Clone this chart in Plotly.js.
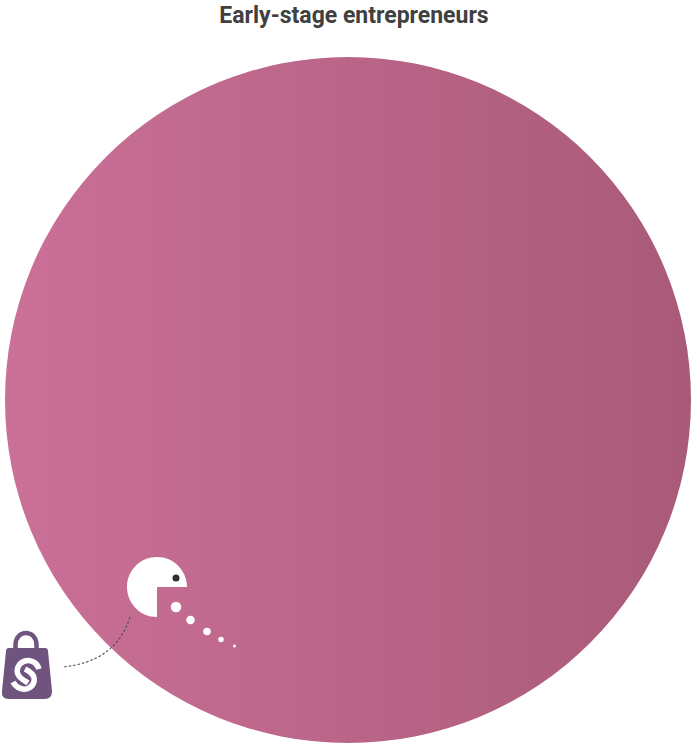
<!DOCTYPE html>
<html>
<head>
<meta charset="utf-8">
<script src="https://cdn.plot.ly/plotly-3.0.1.min.js"></script>
<style>html,body{margin:0;padding:0;background:#fff}#c{width:695px;height:743px}</style>
</head>
<body>
<div id="c"></div>
<script>
const titleText = 'Early-stage entrepreneurs';
const bubbleX = [348], bubbleY = [400], bubbleD = [686];
const dotsX = [176, 190.5, 207, 221, 234.5];
const dotsY = [607, 620, 631.5, 639.5, 646];
const dotsD = [10.5, 8.5, 7.5, 5.5, 3];
const eyeX = 176, eyeY = 578, eyeR = 3.5;

const bubble = {
  type:'scatter', mode:'markers', x:bubbleX, y:bubbleY, hoverinfo:'skip', cliponaxis:false,
  marker:{size:bubbleD, sizemode:'diameter', color:'#cb7097', opacity:1, line:{width:0},
    gradient:{type:'horizontal', color:'#a95a79'}}
};
const dots = {type:'scatter', mode:'markers', x:dotsX, y:dotsY, hoverinfo:'skip', cliponaxis:false,
  marker:{size:dotsD, color:'#ffffff', opacity:1, line:{width:0}}};

const purple = '#6f5480';
const base = {xref:'x', yref:'y', type:'path', layer:'above'};
const shapes = [
  // connector
  {...base, path:'M130,617 Q116,662 62,667', line:{color:'#4a4a4a', width:1.1, dash:'2.5px,2px'}},
  // pacman
  {...base, path:'M157,587 L187,587 C187,570.4 173.6,557 157,557 C140.4,557 127,570.4 127,587 C127,603.6 140.4,617 157,617 Z',
    fillcolor:'#ffffff', line:{width:0}},
  // pacman eye
  {xref:'x', yref:'y', type:'circle', layer:'above', x0:eyeX-eyeR, x1:eyeX+eyeR, y0:eyeY-eyeR, y1:eyeY+eyeR,
    fillcolor:'#2e2e2e', line:{width:0}},
  // bag handle
  {...base, path:'M15.5,650 L15.5,645 C15.5,629 36.5,629 36.5,645 L36.5,650', line:{color:purple, width:4.5}},
  // bag body
  {...base, path:'M9,648 L45,648 Q48,648 48,651 L52,691 Q52,699 45,699 L9,699 Q1,699 2,691 L6,651 Q6,648 9,648 Z',
    fillcolor:purple, line:{width:0}},
  // S upper hook
  {...base, path:'M39,669 C37,662 30,659.5 25,661 C18,663 15,671 19,676 C21,679 25,681 28,683', line:{color:'#fff', width:5.5}},
  // S lower hook
  {...base, path:'M13,682 C16,688 24,691 29,688 C35,685 36,677 31,673 C29,671 27,670 25,669', line:{color:'#fff', width:5.5}}
];

const layout = {
  width:695, height:743, margin:{l:0,r:0,t:0,b:0}, showlegend:false,
  paper_bgcolor:'#fff', plot_bgcolor:'rgba(0,0,0,0)',
  title:{text:titleText, font:{family:'Roboto, sans-serif', size:23, color:'#404040', weight:700},
    x:354/695, xanchor:'center', y:1-15/743, yanchor:'middle', xref:'paper', yref:'container'},
  xaxis:{range:[0,695], visible:false, fixedrange:true},
  yaxis:{range:[743,0], visible:false, fixedrange:true},
  shapes
};
Plotly.newPlot('c', [bubble, dots], layout, {displayModeBar:false, staticPlot:true});
</script>
</body>
</html>
